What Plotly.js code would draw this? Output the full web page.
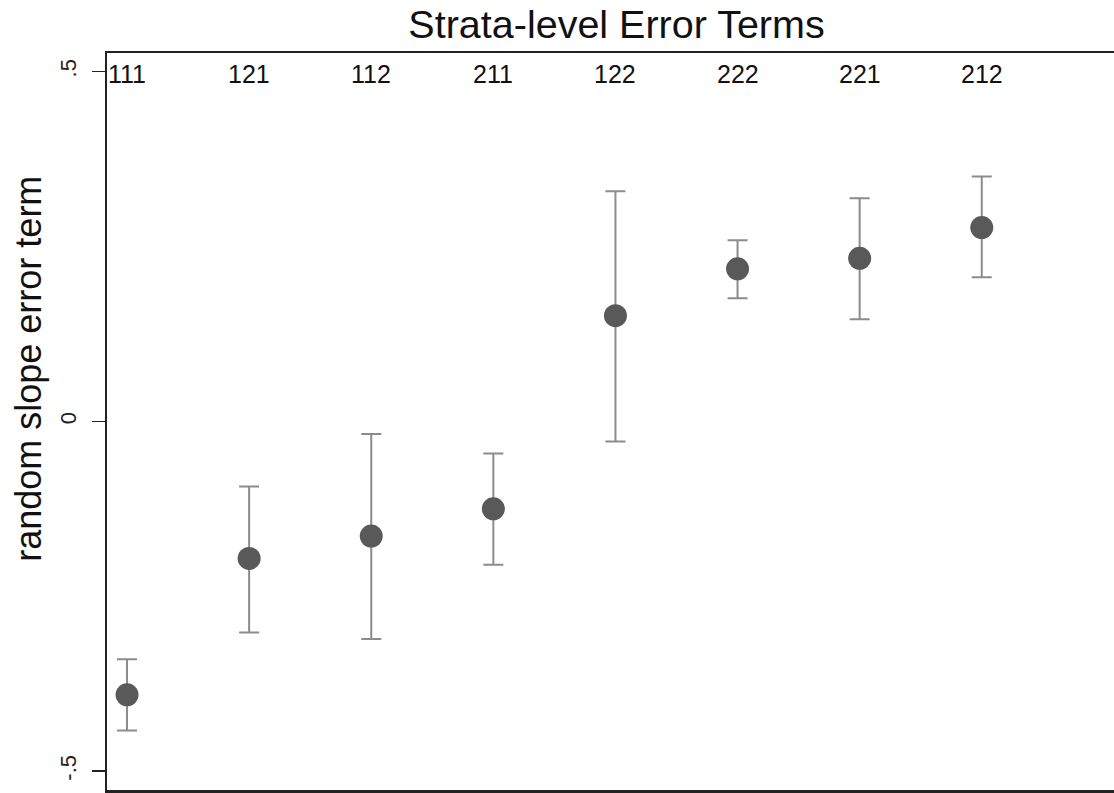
<!DOCTYPE html>
<html>
<head>
<meta charset="utf-8">
<script src="https://cdn.plot.ly/plotly-3.0.1.min.js"></script>
<style>html,body{margin:0;padding:0;background:#fff;}#chart{width:1114px;height:793px;}</style>
</head>
<body>
<div id="chart"></div>
<script>
// Strata labels, in plotted order
const strata = ["111", "121", "112", "211", "122", "222", "221", "212"];
// Point estimates of the random slope error term
const estimate = [-0.391, -0.196, -0.164, -0.125, 0.151, 0.218, 0.233, 0.277];
// Upper and lower interval bounds
const upperBound = [-0.340, -0.093, -0.018, -0.046, 0.329, 0.259, 0.319, 0.350];
const lowerBound = [-0.442, -0.302, -0.311, -0.205, -0.029, 0.176, 0.146, 0.206];
// Y tick labels
const yTickVals = [-0.5, 0, 0.5];
const yTickText = ["-.5", "0", ".5"];

const pos = strata.map((s, i) => i + 1);
const errPlus = upperBound.map((u, i) => u - estimate[i]);
const errMinus = estimate.map((e, i) => e - lowerBound[i]);

const FONT = "Liberation Sans, Arial, sans-serif";

const trace = {
  type: "scatter",
  mode: "markers",
  x: pos,
  y: estimate,
  marker: {size: 23, color: "#595959"},
  error_y: {
    type: "data",
    symmetric: false,
    array: errPlus,
    arrayminus: errMinus,
    color: "#8c8c8c",
    thickness: 2,
    width: 10
  },
  hoverinfo: "skip"
};

const annotations = strata.map((s, i) => ({
  x: pos[i], y: 0.5, xref: "x", yref: "y",
  text: s, showarrow: false,
  xanchor: "center", yanchor: "middle", yshift: -2,
  font: {family: FONT, size: 25, color: "#111"}
}));
annotations.push({
  xref: "paper", yref: "paper",
  x: (29 - 107) / 1007, y: (790.5 - 369) / 737.5,
  text: "random slope error term", showarrow: false, textangle: -90,
  xanchor: "center", yanchor: "middle",
  font: {family: FONT, size: 36, color: "#111"}
});

const layout = {
  width: 1114, height: 793,
  margin: {l: 107, r: 0, t: 53, b: 3, pad: 0},
  paper_bgcolor: "#fff", plot_bgcolor: "#fff",
  showlegend: false,
  title: {
    text: "Strata-level Error Terms",
    xref: "container", yref: "container",
    x: 616.5 / 1114, y: 1 - 24 / 793,
    xanchor: "center", yanchor: "middle",
    font: {family: FONT, size: 39.5, color: "#111"}
  },
  xaxis: {
    range: [0.836, 9.083],
    showgrid: false, zeroline: false,
    showticklabels: false, ticks: "",
    showline: true, mirror: true, linecolor: "#222", linewidth: 2.5
  },
  yaxis: {
    range: [-0.527, 0.5265],
    showgrid: false, zeroline: false,
    tickvals: yTickVals, ticktext: yTickText,
    tickangle: -90,
    ticks: "outside", ticklen: 13, tickwidth: 1.5, tickcolor: "#222",
    ticklabelstandoff: 7,
    tickfont: {family: FONT, size: 22, color: "#222"},
    showline: true, linecolor: "#222", linewidth: 2.5
  },
  annotations: annotations
};

Plotly.newPlot("chart", [trace], layout, {displayModeBar: false, staticPlot: true});
</script>
</body>
</html>
